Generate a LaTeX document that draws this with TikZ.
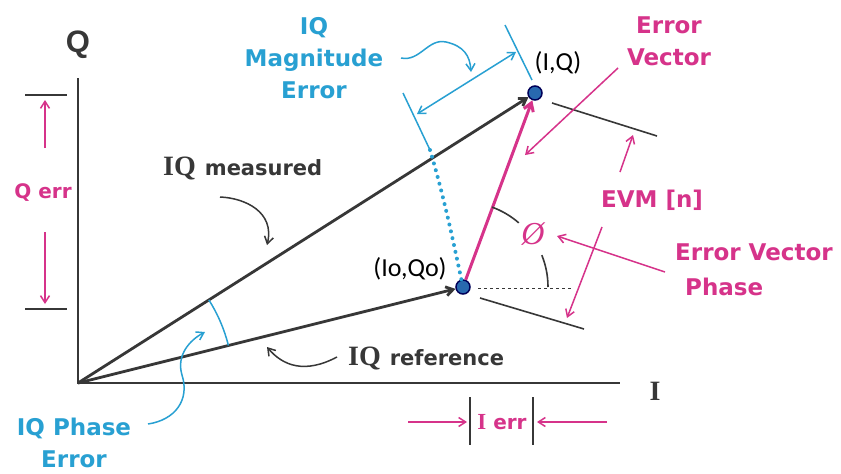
\documentclass[tikz,border=0pt]{standalone}
\usepackage{fontspec}
\setmainfont{DejaVu Sans}
\newfontfamily\serifb{Liberation Serif}
\newfontfamily\axsans{Liberation Sans}
\newfontfamily\ptfont{Carlito}
\usetikzlibrary{arrows.meta,calc}
\definecolor{pk}{RGB}{214,51,138}
\definecolor{cy}{RGB}{40,160,210}
\definecolor{ink}{RGB}{55,55,55}
\definecolor{dotblue}{RGB}{40,105,175}
\tikzset{
  lbl/.style={font=\bfseries\fontsize{23}{32}\selectfont, align=center, inner sep=0pt},
  cylbl/.style={lbl, text=cy},
  pklbl/.style={lbl, text=pk},
  pt/.style={font=\ptfont\fontsize{26}{30}\selectfont, text=black, inner sep=0pt},
  iqdot/.style={circle, fill=dotblue, draw=black!65!blue, line width=1.5pt, minimum size=14pt, inner sep=0pt},
  axisline/.style={draw=ink, line width=2.2pt},
  vec/.style={draw=ink, line width=2.8pt, -{Straight Barb[length=7pt,width=9pt]}},
  errvec/.style={draw=pk, line width=3pt, -{Straight Barb[length=8pt,width=10pt]}},
  pkarrow/.style={draw=pk, line width=1.5pt, -{Straight Barb[length=7pt,width=9pt]}},
  cyarrow/.style={draw=cy, line width=1.5pt, -{Straight Barb[length=7pt,width=9pt]}},
  inkarrow/.style={draw=ink, line width=1.5pt, -{Straight Barb[length=7pt,width=9pt]}},
  thinink/.style={draw=ink, line width=1.6pt},
  thincy/.style={draw=cy, line width=1.5pt}
}
\begin{document}
\begin{tikzpicture}[x=1pt,y=-1pt]
\useasboundingbox[fill=white] (0,0) rectangle (841,474);
% key points
\coordinate (O) at (78,383);
\coordinate (Qtop) at (78,78);
\coordinate (Iend) at (620,383);
\node[iqdot] (iq) at (535,93) {};
\node[iqdot] (io) at (463,287) {};
% axes
\draw[axisline] (Qtop) -- (O) -- (Iend);
\node[font=\axsans\bfseries\fontsize{31}{31}\selectfont, text=ink, inner sep=0pt] (Qlab) at (78,45) {Q};
\node[font=\serifb\bfseries\fontsize{28}{28}\selectfont, text=ink, inner sep=0pt] (Ilab) at (655,391) {I};
% vectors
\draw[vec] (O) -- (iq);
\draw[vec] (O) -- (io);
\draw[errvec] (io) -- (iq);
% point labels
\node[pt] (iqlab) at (558,63) {(I,Q)};
\node[pt] (iolab) at (410,269) {(Io,Qo)};
% tick lines for EVM
\draw[thinink] (iq) ++(17,10) coordinate (t1a) -- ++(105,33) coordinate (t1b);
\draw[thinink] (io) ++(17,11) coordinate (t2a) -- ++(104,31) coordinate (t2b);
\draw[draw=ink, line width=1pt, dash pattern=on 3pt off 3pt] (io) ++(15,1) -- ++(95,0);
% phi arc
\draw[thinink] (io) ++(-70:85) arc[start angle=-70, end angle=-49, radius=85];
\draw[thinink] (io) ++(-22:85) arc[start angle=-22, end angle=0, radius=85];
\node[font=\serifb\itshape\fontsize{32}{32}\selectfont, text=pk, inner sep=0pt] (phi) at (533,234) {Ø};
% magnitude error dimension
\draw[thincy] (505,25) coordinate (m1a) -- (532,80) coordinate (m1b);
\draw[thincy] (403,93) coordinate (m2a) -- (430,150) coordinate (m2b);
\draw[draw=cy, line width=1.5pt, {Straight Barb[length=7pt,width=9pt]}-{Straight Barb[length=7pt,width=9pt]}] (417,114) -- (516,52);
\draw[draw=cy, line width=4pt, dash pattern=on 0pt off 7pt, line cap=round] (m2b) .. controls (445,200) and (455,250) .. (io);
% phase error arc
\draw[thincy] (O) ++(-14:155) arc[start angle=-14, end angle=-32.4, radius=155];
% Q err
\coordinate (qb1) at (25,95); \coordinate (qb2) at (67,95);
\coordinate (qb3) at (25,309); \coordinate (qb4) at (67,309);
\draw[thinink] (qb1) -- (qb2);
\draw[thinink] (qb3) -- (qb4);
\node[pklbl, font=\bfseries\fontsize{20}{24}\selectfont] (qerr) at (43,193) {Q err};
\draw[pkarrow] (45,148) -- (45,100);
\draw[pkarrow] (45,232) -- (45,304);
% I err
\draw[thinink] (470,397) -- (470,445);
\draw[thinink] (533,397) -- (533,445);
\node[pklbl, font=\bfseries\fontsize{20}{24}\selectfont] (ierr) at (502,422) {{\serifb\fontsize{23}{24}\selectfont I} err};
\draw[pkarrow] (408,422) -- (467,422);
\draw[pkarrow] (607,422) -- (537,422);
% labels
\node[cylbl] (magerr) at (314,58) {IQ\\Magnitude\\Error};
\draw[cyarrow] (401,58) .. controls (420,62) and (428,38) .. (446,42) .. controls (464,46) and (470,56) .. (471,72);
\node[pklbl] (errvl) at (669,41) {Error\\Vector};
\draw[pkarrow] (618,68) -- (525,155);
\node[pklbl] (evm) at (652,200) {EVM [n]};
\draw[pkarrow] (620,172) -- (633,135);
\draw[pkarrow] (602,227) -- (567,318);
\node[pklbl, anchor=west] (evpA) at (675,252) {Error Vector};
\node[pklbl, anchor=west] (evpB) at (685,287) {Phase};
\draw[pkarrow] (665,272) -- (557,236);
\node[cylbl] (pherr) at (74,443) {IQ Phase\\Error};
\draw[cyarrow] (148,424) .. controls (175,420) and (190,400) .. (182,375) .. controls (176,355) and (190,340) .. (205,332);
\node[anchor=base west, inner sep=0pt, text=ink] (meas) at (163,175) {{\serifb\bfseries\fontsize{28}{28}\selectfont IQ}\hspace{9pt}{\bfseries\fontsize{21}{21}\selectfont measured}};
\draw[inkarrow] (220,197) .. controls (245,198) and (275,212) .. (267,245);
\node[anchor=base west, inner sep=0pt, text=ink] (ref) at (348,365) {{\serifb\bfseries\fontsize{28}{28}\selectfont IQ}\hspace{9pt}{\bfseries\fontsize{21}{21}\selectfont reference}};
\draw[inkarrow] (337,357) .. controls (305,374) and (283,366) .. (267,347);
\end{tikzpicture}
\end{document}
